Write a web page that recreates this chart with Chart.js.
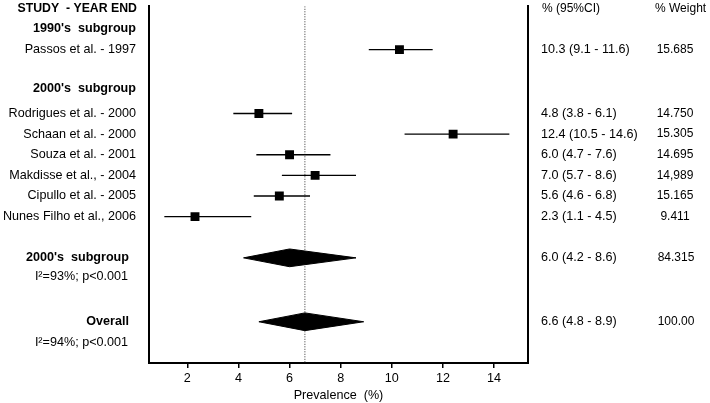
<!DOCTYPE html>
<html>
<head>
<meta charset="utf-8">
<style>
  html, body { margin: 0; padding: 0; background: #fff; }
  #wrap { width: 710px; height: 403px; }
</style>
</head>
<body>
<div id="wrap"><canvas id="forest"></canvas></div>
<script src="https://cdn.jsdelivr.net/npm/chart.js"></script>
<script>
// study data (prevalence %, 95% CI)
const studies = ["Passos et al. - 1997", "Rodrigues et al. - 2000", "Schaan et al. - 2000", "Souza et al. - 2001",
  "Makdisse et al., - 2004", "Cipullo et al. - 2005", "Nunes Filho et al., 2006"];
const studyRows = [2.1, 5.2, 6.2, 7.2, 8.2, 9.2, 10.2];
const est = [10.3, 4.8, 12.4, 6.0, 7.0, 5.6, 2.3];
const lo = [9.1, 3.8, 10.5, 4.7, 5.7, 4.6, 1.1];
const hi = [11.6, 6.1, 14.6, 7.6, 8.6, 6.8, 4.5];
const weights = ["15.685", "14.750", "15.305", "14.695", "14,989", "15.165", "9.411"];

const groupHeaders = ["1990's  subgroup", "2000's  subgroup"];
const groupRows = [1.1, 4.0];

// pooled estimates
const pooledLabels = ["2000's  subgroup", "Overall"];
const pooledRows = [12.2, 15.3];
const pooledEst = [6.0, 6.6];
const pooledLo = [4.2, 4.8];
const pooledHi = [8.6, 8.9];
const pooledWeights = ["84.315", "100.00"];
const hetLabels = ["I²=93%; p<0.001", "I²=94%; p<0.001"];
const hetRows = [13.1, 16.3];

const xTicks = [2, 4, 6, 8, 10, 12, 14];
const refLine = 6.6;

const FONT = "'Liberation Sans', Arial, sans-serif";

const fmt = (e, l, h) => e.toFixed(1) + " (" + l.toFixed(1) + " - " + h.toFixed(1) + ")";

const datasets = [];
datasets.push({
  type: "scatter",
  data: est.map((v, i) => ({ x: v, y: studyRows[i] })),
  pointStyle: "rect",
  pointRadius: 6.3,
  backgroundColor: "#000",
  borderColor: "#000",
  borderWidth: 0
});
pooledEst.forEach((e, i) => {
  const r = pooledRows[i];
  datasets.push({
    type: "line",
    data: [
      { x: pooledLo[i], y: r }, { x: e, y: r - 0.43 }, { x: pooledHi[i], y: r },
      { x: e, y: r + 0.43 }, { x: pooledLo[i], y: r }
    ],
    fill: "shape",
    backgroundColor: "#000",
    borderColor: "#000",
    borderWidth: 1,
    pointRadius: 0,
    tension: 0
  });
});
est.forEach((e, i) => {
  datasets.push({
    type: "line",
    data: [{ x: lo[i], y: studyRows[i] }, { x: hi[i], y: studyRows[i] }],
    borderColor: "#000",
    borderWidth: 1.4,
    pointRadius: 0
  });
});
datasets.push({
  type: "line",
  data: [{ x: refLine, y: 0 }, { x: refLine, y: 17.3 }],
  borderColor: "#333",
  borderWidth: 1,
  borderDash: [1, 1.5],
  pointRadius: 0
});

const textPlugin = {
  id: "forestText",
  afterDraw(chart) {
    const ctx = chart.ctx;
    const y = chart.scales.y;
    const put = (t, x, row, align, bold, size) => {
      ctx.font = (bold ? "bold " : "") + (size || 12.6) + "px " + FONT;
      ctx.textAlign = align;
      ctx.fillText(t, x, y.getPixelForValue(row));
    };
    ctx.save();
    ctx.fillStyle = "#000";
    ctx.textBaseline = "middle";
    put("STUDY  - YEAR END", 137, 0.1, "right", true, 12.3);
    put("% (95%CI)", 542, 0.1, "left", false, 12);
    put("% Weight", 655, 0.1, "left", false, 12);
    groupHeaders.forEach((t, i) => put(t, 136, groupRows[i], "right", true));
    studies.forEach((t, i) => {
      put(t, 136, studyRows[i], "right", false);
      put(fmt(est[i], lo[i], hi[i]), 541, studyRows[i], "left", false);
      put(weights[i], 675, studyRows[i], "center", false, 12);
    });
    pooledLabels.forEach((t, i) => {
      put(t, 129, pooledRows[i], "right", true);
      put(fmt(pooledEst[i], pooledLo[i], pooledHi[i]), 541, pooledRows[i], "left", false);
      put(pooledWeights[i], 676, pooledRows[i], "center", false, 12);
    });
    hetLabels.forEach((t, i) => put(t, 128, hetRows[i], "right", false));
    ctx.restore();
  }
};

new Chart(document.getElementById("forest"), {
  type: "scatter",
  data: { datasets: datasets },
  plugins: [textPlugin],
  options: {
    responsive: true,
    maintainAspectRatio: false,
    animation: false,
    events: [],
    layout: { padding: { left: 149, right: 182, top: 5, bottom: 0 } },
    plugins: { legend: { display: false }, tooltip: { enabled: false } },
    scales: {
      x: {
        type: "linear",
        min: 0.5,
        max: 15.33,
        afterBuildTicks: s => { s.ticks = xTicks.map(v => ({ value: v })); },
        afterFit: s => { s.height = 40; },
        grid: { display: true, drawOnChartArea: false, drawTicks: true, tickLength: 5, color: "#000", lineWidth: 1.5 },
        border: { display: true, color: "#000", width: 2 },
        ticks: { color: "#000", font: { family: FONT, size: 12.6 }, padding: 3 },
        title: { display: true, text: "Prevalence  (%)", color: "#000", font: { family: FONT, size: 12.6 }, padding: { top: 0, bottom: 0 } }
      },
      y: {
        type: "linear",
        min: 0,
        max: 17.3,
        reverse: true,
        afterFit: s => { s.width = 0; },
        grid: { display: false },
        ticks: { display: false },
        border: { display: true, color: "#000", width: 2 }
      },
      y2: {
        type: "linear",
        position: "right",
        afterFit: s => { s.width = 0; },
        grid: { display: false },
        ticks: { display: false },
        border: { display: true, color: "#000", width: 2 }
      }
    }
  }
});
</script>
</body>
</html>
